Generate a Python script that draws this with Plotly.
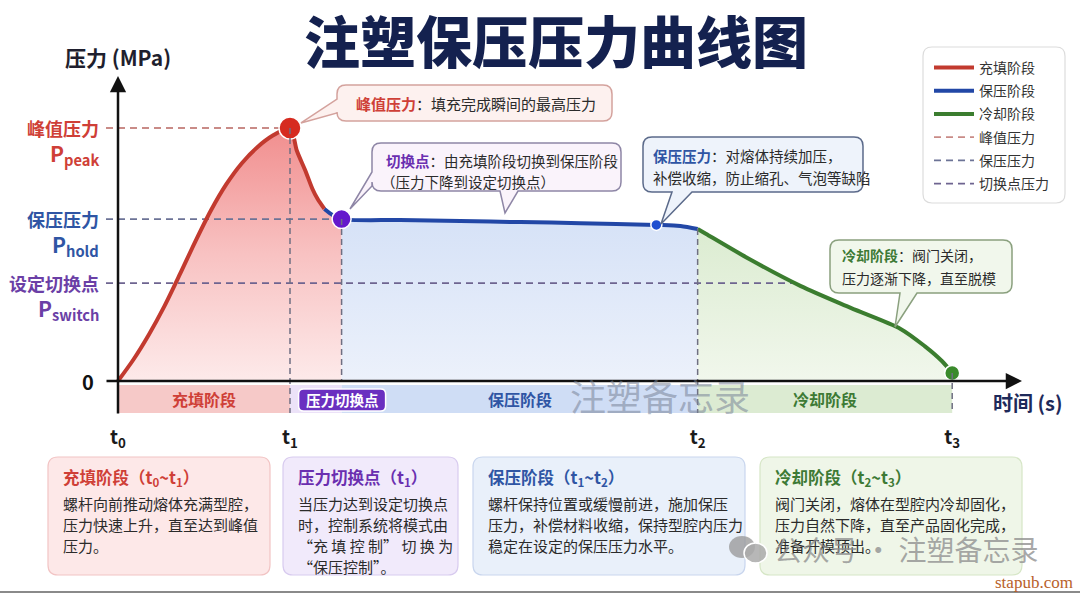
import plotly.graph_objects as go

# ---------------- data ----------------
fill_t = [0, 0.09, 0.18, 0.27, 0.36, 0.45, 0.54, 0.63, 0.72, 0.81, 0.90, 1.0]
fill_p = [0, 8.5, 18.4, 29.6, 42.2, 55.2, 67.4, 77.8, 86.1, 92.4, 97.0, 100]
drop_t = [1.0, 1.04, 1.09, 1.13, 1.16, 1.20, 1.25, 1.30]
drop_p = [100, 91, 83, 76, 72, 68, 65.5, 64]
hold_t = [1.30, 1.64, 1.99, 2.34, 2.69, 3.13, 3.27, 3.37]
hold_p = [64, 63.6, 63.2, 62.8, 62.4, 61.7, 61.3, 60.1]
cool_t = [3.37, 3.42, 3.67, 3.97, 4.26, 4.55, 4.69, 4.79, 4.85]
cool_p = [60.1, 58.1, 48.2, 37.5, 28.9, 20.6, 13.8, 7.9, 3.2]

T0, T1, T_SW, T2, T3 = 0, 1.0, 1.30, 3.37, 4.85
P_PEAK, P_HOLD, P_SWITCH = 100, 64, 38.7
hold_marker_t, hold_marker_p = 3.13, 61.7
switch_line_end = 3.93

tick_times = [T0, T1, T2, T3]
tick_labels = ["t<sub>0</sub>", "t<sub>1</sub>", "t<sub>2</sub>", "t<sub>3</sub>"]
legend_names = ["充填阶段", "保压阶段", "冷却阶段", "峰值压力", "保压压力", "切换点压力"]
band_names = ["充填阶段", "压力切换点", "保压阶段", "冷却阶段"]

# ---------------- layout geometry ----------------
W, H = 1080, 594
PB = 424                 # plot-area bottom (px)
X0, SX = 118, 172        # px of t=0, px per time unit
Y0, SY = 381, 2.53       # px of p=0, px per pressure unit
FONT = "Noto Sans CJK SC"

def tx(px):
    return (px - X0) / SX
def py_(py):
    return (Y0 - py) / SY
def xp(px):
    return px / W
def yp(py):
    return (PB - py) / PB
def dpx(t):
    return X0 + t * SX

RED, BLUE, GREEN = "#c23a2f", "#2247a6", "#3b7d2f"
PURPLE = "#6a2fc0"

fig = go.Figure()

# ---- filled areas ----
fig.add_trace(go.Scatter(
    x=fill_t + drop_t[1:], y=fill_p + drop_p[1:], mode="lines", line=dict(width=0, shape="spline", smoothing=0.8),
    fill="tozeroy", showlegend=False, hoverinfo="skip",
    fillgradient=dict(type="vertical", start=0, stop=P_PEAK,
                      colorscale=[[0, "rgb(253,234,234)"], [0.5, "rgb(248,194,194)"], [1, "rgb(241,142,142)"]])))
fig.add_trace(go.Scatter(
    x=hold_t, y=hold_p, mode="lines", line=dict(width=0, shape="spline", smoothing=0.8),
    fill="tozeroy", showlegend=False, hoverinfo="skip",
    fillgradient=dict(type="vertical", start=0, stop=P_HOLD,
                      colorscale=[[0, "rgb(236,241,251)"], [1, "rgb(214,226,247)"]])))
fig.add_trace(go.Scatter(
    x=cool_t, y=cool_p, mode="lines", line=dict(width=0, shape="spline", smoothing=0.8),
    fill="tozeroy", showlegend=False, hoverinfo="skip",
    fillgradient=dict(type="vertical", start=0, stop=P_HOLD,
                      colorscale=[[0, "rgb(241,247,236)"], [1, "rgb(218,235,207)"]])))

# ---- dashed guide lines (legend entries too) ----
lead = tx(106)
DASH = "7px,5px"
fig.add_trace(go.Scatter(x=[lead, T1], y=[P_PEAK, P_PEAK], mode="lines", name=legend_names[3],
                         legendgroup="g4", legendrank=4,
                         line=dict(color="#c98b87", width=1.8, dash=DASH), hoverinfo="skip"))
fig.add_trace(go.Scatter(x=[lead, T_SW], y=[P_HOLD, P_HOLD], mode="lines", name=legend_names[4],
                         legendgroup="g5", legendrank=5,
                         line=dict(color="#6c7396", width=1.8, dash=DASH), hoverinfo="skip"))
fig.add_trace(go.Scatter(x=[lead, switch_line_end], y=[P_SWITCH, P_SWITCH], mode="lines", name=legend_names[5],
                         legendgroup="g6", legendrank=6,
                         line=dict(color="#6e6490", width=1.8, dash=DASH), hoverinfo="skip"))

# ---- main curve ----
fig.add_trace(go.Scatter(x=fill_t + drop_t[1:6], y=fill_p + drop_p[1:6], mode="lines", name=legend_names[0],
                         legendgroup="g1", legendrank=1,
                         line=dict(color=RED, width=4, shape="spline", smoothing=0.8), hoverinfo="skip"))
fig.add_trace(go.Scatter(x=drop_t[5:] + hold_t[1:], y=drop_p[5:] + hold_p[1:], mode="lines", name=legend_names[1],
                         legendgroup="g2", legendrank=2,
                         line=dict(color=BLUE, width=4, shape="spline", smoothing=0.8), hoverinfo="skip"))
fig.add_trace(go.Scatter(x=cool_t, y=cool_p, mode="lines", name=legend_names[2],
                         legendgroup="g3", legendrank=3,
                         line=dict(color=GREEN, width=4, shape="spline", smoothing=0.8), hoverinfo="skip"))

# ---- key point markers ----
key_pts = [(T1, P_PEAK, 22, "#d62b20"), (T_SW, P_HOLD, 19, "#6419cc"),
           (hold_marker_t, hold_marker_p, 11, "#1f4fd0"), (T3, cool_p[-1], 15, "#3a8a2b")]
for (kt, kp, ks, kc) in key_pts:
    fig.add_trace(go.Scatter(x=[kt], y=[kp], mode="markers", showlegend=False, hoverinfo="skip",
                             opacity=1, marker=dict(size=ks, color=kc, opacity=1,
                                                    line=dict(color="white", width=1.5))))

shapes = []
annotations = []

def rpath(x0, y0, x1, y1, r, bottom_tails=(), left_tails=()):
    def P(x, y):
        return f"{xp(x):.5f},{yp(y):.5f}"
    s = f"M{P(x0 + r, y0)} L{P(x1 - r, y0)} Q{P(x1, y0)} {P(x1, y0 + r)} L{P(x1, y1 - r)} Q{P(x1, y1)} {P(x1 - r, y1)}"
    for (a, b, tipx, tipy) in sorted(bottom_tails, key=lambda q: -q[0]):
        s += f" L{P(b, y1)} L{P(tipx, tipy)} L{P(a, y1)}"
    s += f" L{P(x0 + r, y1)} Q{P(x0, y1)} {P(x0, y1 - r)}"
    for (a, b, tipx, tipy) in sorted(left_tails, key=lambda q: -q[0]):
        s += f" L{P(x0, b)} L{P(tipx, tipy)} L{P(x0, a)}"
    s += f" L{P(x0, y0 + r)} Q{P(x0, y0)} {P(x0 + r, y0)} Z"
    return s

def add_path(path, fill, border, width=1.5, layer="above"):
    shapes.append(dict(type="path", path=path, xref="paper", yref="paper", fillcolor=fill,
                       line=dict(color=border, width=width), layer=layer))

def add_text(text, px, py, size, color, xanchor="left", yanchor="middle", family=FONT, weight=None):
    f = dict(size=size, color=color, family=family)
    if weight:
        f["weight"] = weight
    annotations.append(dict(text=text, x=xp(px), y=yp(py), xref="paper", yref="paper", showarrow=False,
                            xanchor=xanchor, yanchor=yanchor, borderpad=0, font=f))

# ---- phase band under the x axis ----
band_top, band_bot = py_(385), py_(413)
band_cols = ["#f6c9c8", "#ece2f8", "#cfddf5", "#dcebd2"]
band_edges = [T0, T1, T_SW, T2, T3]
for i in range(4):
    shapes.append(dict(type="rect", xref="x", yref="y", x0=band_edges[i], x1=band_edges[i + 1],
                       y0=band_bot, y1=band_top, fillcolor=band_cols[i], line=dict(width=0), layer="below"))
for i, col in [(0, "#cf3f37"), (2, "#2f55a4"), (3, "#3d7a35")]:
    annotations.append(dict(text=f"<b>{band_names[i]}</b>", x=(band_edges[i] + band_edges[i + 1]) / 2,
                            y=(band_top + band_bot) / 2, xref="x", yref="y", showarrow=False,
                            font=dict(size=16, color=col, family=FONT)))
cx = dpx(T_SW)
add_path(rpath(cx - 43, 389, cx + 44, 411, 5), PURPLE, "#ffffff", width=1.5)
annotations.append(dict(text=f"<b>{band_names[1]}</b>", x=T_SW + 0.005, y=(band_top + band_bot) / 2,
                        xref="x", yref="y", showarrow=False, font=dict(size=14.5, color="white", family=FONT)))

# ---- vertical dashed markers ----
VD = dict(color="#6f6f82", width=1.5, dash="6px,4px")
for (t, top, bot) in [(T1, P_PEAK, band_bot), (T_SW, P_HOLD, 0), (T2, hold_p[-1], band_bot), (T3, cool_p[-1], band_bot)]:
    shapes.append(dict(type="line", xref="x", yref="y", x0=t, x1=t, y0=top, y1=bot, line=VD, layer="above"))

# ---- axes lines with arrows ----
annotations.append(dict(x=tx(1022), y=0, ax=tx(105), ay=0, xref="x", yref="y", axref="x", ayref="y",
                        text="", showarrow=True, arrowhead=2, arrowsize=1.3, arrowwidth=2.5,
                        arrowcolor="#111111", standoff=0, startstandoff=0))
annotations.append(dict(x=0, y=py_(76), ax=0, ay=py_(415), xref="x", yref="y", axref="x", ayref="y",
                        text="", showarrow=True, arrowhead=2, arrowsize=1.3, arrowwidth=2.5,
                        arrowcolor="#111111", standoff=0, startstandoff=0))

# ---- axis titles / y labels ----
add_text("<b>压力 (MPa)</b>", 118, 57, 21, "#1f1f2e", xanchor="center")
add_text("<b>时间 (s)</b>", 1028, 402, 20, "#1e2a5a", xanchor="center")
annotations.append(dict(text="<b>0</b>", x=tx(88), y=0, xref="x", yref="y", showarrow=False,
                        font=dict(size=20, color="#111", family=FONT)))
ylab = [(P_PEAK, "峰值压力", "peak", "#cf3f37"), (P_HOLD, "保压压力", "hold", "#2f55a4"),
        (P_SWITCH, "设定切换点", "switch", "#6b3fa6")]
for (p, name, sub, col) in ylab:
    annotations.append(dict(text=f"<b>{name}</b>", x=tx(101), y=p, xref="x", yref="y", showarrow=False,
                            xanchor="right", font=dict(size=18, color=col, family=FONT)))
    annotations.append(dict(text=f"<b>P<sub>{sub}</sub></b>", x=tx(101), y=p, yshift=-26, xref="x", yref="y",
                            showarrow=False, xanchor="right", font=dict(size=21, color=col, family=FONT)))

# ---- title ----
add_text("注塑保压压力曲线图", 556, 39, 56, "#14214f", xanchor="center", weight=900)

# ---- callout bubbles ----
TXT = "#2b2b2b"
add_path(rpath(337, 85, 612, 121, 9, left_tails=[(99, 113, 301, 123)]), "#fdf1ef", "#d4a29d")
add_text("<span style='color:#cf3f37'><b>峰值压力</b></span>：填充完成瞬间的最高压力", 355, 103, 15, TXT)

add_path(rpath(372, 143, 621, 191, 9, bottom_tails=[(500, 518, 505, 213)], left_tails=[(172, 186, 350, 209)]),
         "#faf3fb", "#8e86a6")
add_text("<span style='color:#6a2fb0'><b>切换点</b></span>：由充填阶段切换到保压阶段", 385, 160, 14.5, TXT)
add_text("（压力下降到设定切换点）", 380, 182, 14.5, TXT)

add_path(rpath(643, 137, 863, 192, 9, bottom_tails=[(672, 692, 661, 224)]), "#eef3fb", "#5b6a8a")
add_text("<span style='color:#2f55a4'><b>保压压力</b></span>：对熔体持续加压，", 652, 155, 14.5, TXT)
add_text("补偿收缩，防止缩孔、气泡等缺陷", 652, 177, 14.5, TXT)

add_path(rpath(830, 240, 1012, 293, 9, bottom_tails=[(900, 917, 895, 327)]), "#f1f7ec", "#8aa07e")
add_text("<span style='color:#3d7a35'><b>冷却阶段</b></span>：阀门关闭，", 841, 255, 14, TXT)
add_text("压力逐渐下降，直至脱模", 841, 278, 14, TXT)

# ---- legend frame ----
add_path(rpath(923, 47, 1065, 203, 9), "white", "#dcdcdc", width=1.2)

# ---- explanation cards ----
cards = [
    (48, 270, "#fde8e8", "#f2c4c4", "#cf3f37", "充填阶段（t<sub>0</sub>~t<sub>1</sub>）",
     ["螺杆向前推动熔体充满型腔，", "压力快速上升，直至达到峰值", "压力。"]),
    (283, 458, "#f1eafb", "#d8cbef", "#6a2fb0", "压力切换点（t<sub>1</sub>）",
     ["当压力达到设定切换点", "时，控制系统将模式由", "“充 填 控 制” 切 换 为", "“保压控制”。"]),
    (473, 745, "#e9f0fa", "#c9d6ee", "#2f55a4", "保压阶段（t<sub>1</sub>~t<sub>2</sub>）",
     ["螺杆保持位置或缓慢前进，施加保压", "压力，补偿材料收缩，保持型腔内压力", "稳定在设定的保压压力水平。"]),
    (760, 1022, "#eff6e8", "#d6e6c6", "#3d7a35", "冷却阶段（t<sub>2</sub>~t<sub>3</sub>）",
     ["阀门关闭，熔体在型腔内冷却固化，", "压力自然下降，直至产品固化完成，", "准备开模顶出。"]),
]
for (x0, x1, fill, border, tcol, title, lines) in cards:
    add_path(rpath(x0, 457, x1, 575, 10), fill, border, width=1.2)
    add_text(f"<b>{title}</b>", x0 + 14, 477, 16.5, tcol)
    for k, ln in enumerate(lines):
        add_text(ln, x0 + 14, 503 + 21 * k, 15, TXT)

# ---- watermarks ----
add_text("注塑备忘录", 660, 395, 36, "rgba(120,130,150,0.55)", xanchor="center")
shapes.append(dict(type="circle", xref="paper", yref="paper", x0=xp(729), x1=xp(755), y0=yp(558), y1=yp(536),
                   fillcolor="rgba(150,150,150,0.75)", line=dict(width=0)))
shapes.append(dict(type="circle", xref="paper", yref="paper", x0=xp(744), x1=xp(767), y0=yp(563), y1=yp(543),
                   fillcolor="rgba(170,170,170,0.85)", line=dict(color="white", width=1.5)))
add_text("公众号 · 注塑备忘录", 773, 549, 28, "rgba(140,140,140,0.75)")
add_text("stapub.com", 1074, 582, 17, "#b8612b", xanchor="right", family="Liberation Serif")
shapes.append(dict(type="line", xref="paper", yref="paper", x0=0, x1=1, y0=yp(592), y1=yp(592),
                   line=dict(color="#8a8a8a", width=2)))

fig.update_layout(
    width=W, height=H, margin=dict(l=0, r=0, t=0, b=H - PB),
    paper_bgcolor="white", plot_bgcolor="white",
    font=dict(family=FONT, color="#222"),
    xaxis=dict(range=[tx(0), tx(W)], showgrid=False, zeroline=False, showline=False,
               tickmode="array", tickvals=tick_times, ticktext=[f"<b>{s}</b>" for s in tick_labels],
               ticks="", tickfont=dict(size=19, color="#1a1a1a", family=FONT), fixedrange=True),
    yaxis=dict(range=[py_(PB), py_(0)], visible=False, fixedrange=True),
    legend=dict(x=xp(929), y=yp(52), xanchor="left", yanchor="top", bgcolor="rgba(0,0,0,0)",
                borderwidth=0, font=dict(size=14, color="#333", family=FONT),
                tracegroupgap=2, itemwidth=40),
    shapes=shapes, annotations=annotations,
)

fig.write_html("out.html")
